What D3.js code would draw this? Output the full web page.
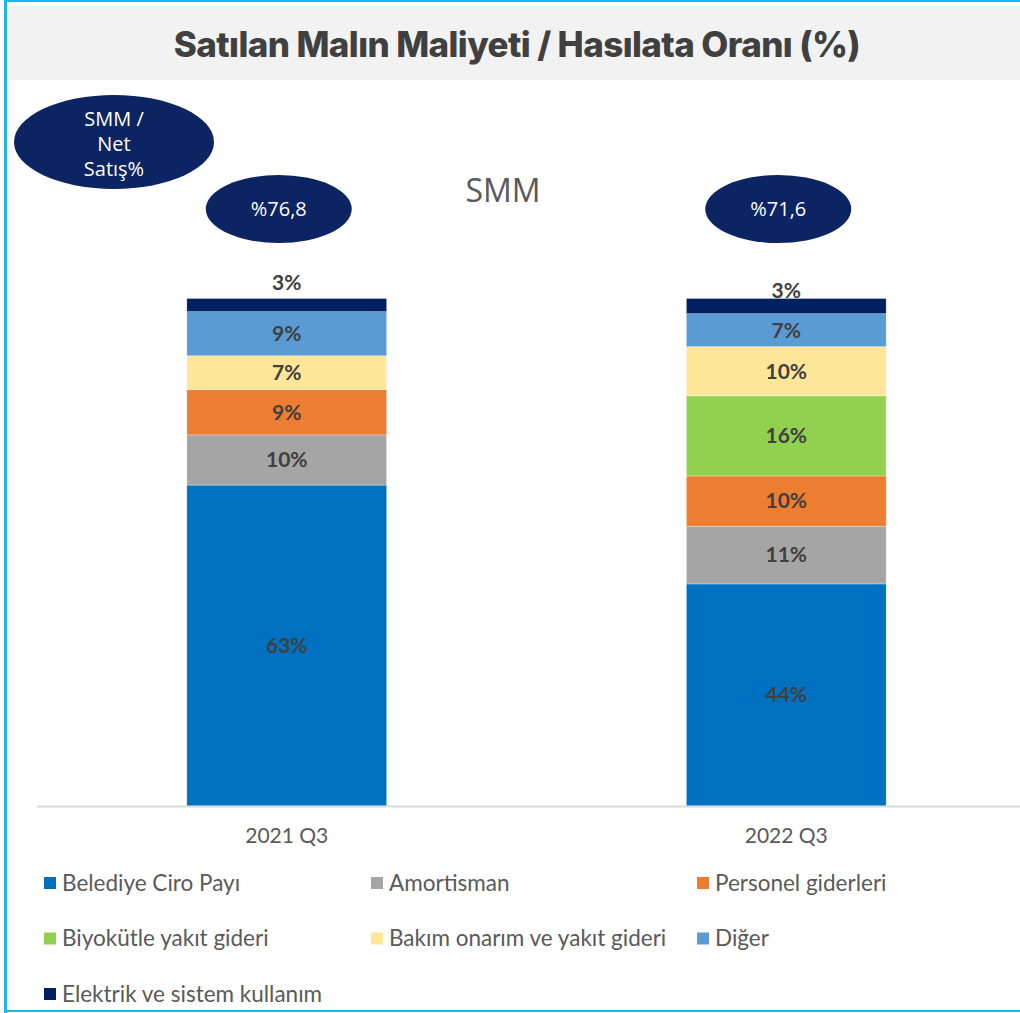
<!DOCTYPE html>
<html>
<head>
<meta charset="utf-8">
<script src="https://cdn.jsdelivr.net/npm/d3@7"></script>
<style>
  body { margin: 0; background: #fff; }
  svg { display: block; }
</style>
</head>
<body>
<script>
// categories and series (percent of cost of goods sold)
var periods = ["2021 Q3", "2022 Q3"];
var seriesNames = ["Belediye Ciro Payı", "Amortisman", "Personel giderleri",
                   "Biyokütle yakıt gideri", "Bakım onarım ve yakıt gideri",
                   "Diğer", "Elektrik ve sistem kullanım"];
var seriesColors = ["#0070c0", "#a5a5a5", "#ed7d31", "#92d050", "#ffe699", "#5b9bd5", "#002060"];
var values2021 = [63.3, 9.9, 8.9, 0, 6.7, 8.7, 2.6];
var values2022 = [43.8, 11.4, 9.9, 15.8, 9.7, 6.5, 3.0];
var labels2021 = ["63%", "10%", "9%", "", "7%", "9%", "3%"];
var labels2022 = ["44%", "11%", "10%", "16%", "10%", "7%", "3%"];
var ratioLabels = ["%76,8", "%71,6"];

var W = 1020, H = 1013;
var svg = d3.select("body").append("svg")
    .attr("width", W)
    .attr("height", H);

// frame
svg.append("rect").attr("x", 0).attr("y", 0).attr("width", W).attr("height", H).attr("fill", "#fff");
svg.append("rect").attr("x", 7).attr("y", 6).attr("width", W - 7).attr("height", 74).attr("fill", "#f2f2f2");
svg.append("line").attr("x1", 5.5).attr("y1", 0).attr("x2", 5.5).attr("y2", H)
    .attr("stroke", "#1fb5ec").attr("stroke-width", 3);
svg.append("line").attr("x1", 4).attr("y1", 1).attr("x2", W).attr("y2", 1)
    .attr("stroke", "#1fb5ec").attr("stroke-width", 2);
svg.append("line").attr("x1", 4).attr("y1", 1011).attr("x2", W).attr("y2", 1011)
    .attr("stroke", "#1fb5ec").attr("stroke-width", 2);

svg.append("text")
    .attr("x", 517).attr("y", 57)
    .attr("text-anchor", "middle")
    .attr("font-family", "Inter, 'Open Sans', sans-serif")
    .attr("font-weight", 800)
    .attr("font-size", 35)
    .attr("letter-spacing", -0.6)
    .attr("fill", "#404040")
    .text("Satılan Malın Maliyeti / Hasılata Oranı (%)");

// scales
var x = d3.scaleBand().domain(periods).range([37, 1036]).paddingInner(0.6).paddingOuter(0.3);
var y = d3.scaleLinear().domain([0, 100]).range([806, 299]);

var rows = [values2021, values2022];
var labelRows = [labels2021, labels2022];

var stackData = periods.map(function(p, i) {
    var o = { period: p };
    seriesNames.forEach(function(s, j) { o[s] = rows[i][j]; });
    return o;
});
var stacked = d3.stack().keys(seriesNames)(stackData);

var layers = svg.append("g").selectAll("g")
    .data(stacked)
    .join("g")
    .attr("fill", function(d, i) { return seriesColors[i]; });

layers.selectAll("rect")
    .data(function(d) { return d; })
    .join("rect")
    .attr("x", function(d) { return x(d.data.period); })
    .attr("width", x.bandwidth())
    .attr("y", function(d) { return y(d[1]); })
    .attr("height", function(d) { return y(d[0]) - y(d[1]); })
    .attr("stroke", "#ffffff")
    .attr("stroke-opacity", 0.5)
    .attr("stroke-width", 0.6);

// segment labels
stacked.forEach(function(layer, j) {
    layer.forEach(function(d, i) {
        var txt = labelRows[i][j];
        if (!txt) return;
        var cy = (y(d[0]) + y(d[1])) / 2;
        if (j === seriesNames.length - 1) cy = y(d[1]) - (i === 0 ? 16 : 8);
        svg.append("text")
            .attr("x", x(d.data.period) + x.bandwidth() / 2)
            .attr("y", cy)
            .attr("dy", "0.35em")
            .attr("text-anchor", "middle")
            .attr("font-family", "Lato, 'Noto Sans', sans-serif")
            .attr("font-weight", 700)
            .attr("font-size", 21)
            .attr("fill", "#404040")
            .text(txt);
    });
});

// axis
var axis = svg.append("g").attr("transform", "translate(0,806)")
    .call(d3.axisBottom(x).tickSize(0).tickPadding(22));
axis.select(".domain").remove();
axis.append("line").attr("x1", 37).attr("x2", W).attr("y1", 0.5).attr("y2", 0.5)
    .attr("stroke", "#d9d9d9").attr("stroke-width", 2);
axis.selectAll("text")
    .attr("font-family", "Lato, 'Noto Sans', sans-serif")
    .attr("font-size", 21)
    .attr("fill", "#595959");

// ratio ellipses
var navy = "#0c2461";
periods.forEach(function(p, i) {
    var cx = x(p) + x.bandwidth() / 2 - 8;
    svg.append("ellipse").attr("cx", cx).attr("cy", 209).attr("rx", 73).attr("ry", 34).attr("fill", navy);
    svg.append("text").attr("x", cx).attr("y", 209).attr("dy", "0.35em")
        .attr("text-anchor", "middle")
        .attr("font-family", "'Open Sans', sans-serif")
        .attr("font-size", 20).attr("fill", "#fff")
        .text(ratioLabels[i]);
});

svg.append("ellipse").attr("cx", 114).attr("cy", 142).attr("rx", 100).attr("ry", 47).attr("fill", navy);
["SMM /", "Net", "Satış%"].forEach(function(t, i) {
    svg.append("text").attr("x", 114).attr("y", 119 + i * 25).attr("dy", "0.35em")
        .attr("text-anchor", "middle")
        .attr("font-family", "'Open Sans', sans-serif")
        .attr("font-size", 20).attr("fill", "#fff")
        .text(t);
});

svg.append("text").attr("x", 503).attr("y", 191).attr("dy", "0.35em")
    .attr("text-anchor", "middle")
    .attr("font-family", "'Open Sans', sans-serif")
    .attr("font-size", 32).attr("fill", "#595959")
    .text("SMM");

// legend
var legendCols = [44, 371, 697];
var legend = svg.append("g").selectAll("g")
    .data(seriesNames)
    .join("g")
    .attr("transform", function(d, i) {
        return "translate(" + legendCols[i % 3] + "," + (883 + Math.floor(i / 3) * 55.5) + ")";
    });
legend.append("rect").attr("x", 0).attr("y", -6).attr("width", 12).attr("height", 12)
    .attr("fill", function(d, i) { return seriesColors[i]; });
legend.append("text").attr("x", 18).attr("y", 0).attr("dy", "0.35em")
    .attr("font-family", "Lato, 'Noto Sans', sans-serif")
    .attr("font-size", 22.5).attr("fill", "#595959")
    .text(function(d) { return d; });
</script>
</body>
</html>
